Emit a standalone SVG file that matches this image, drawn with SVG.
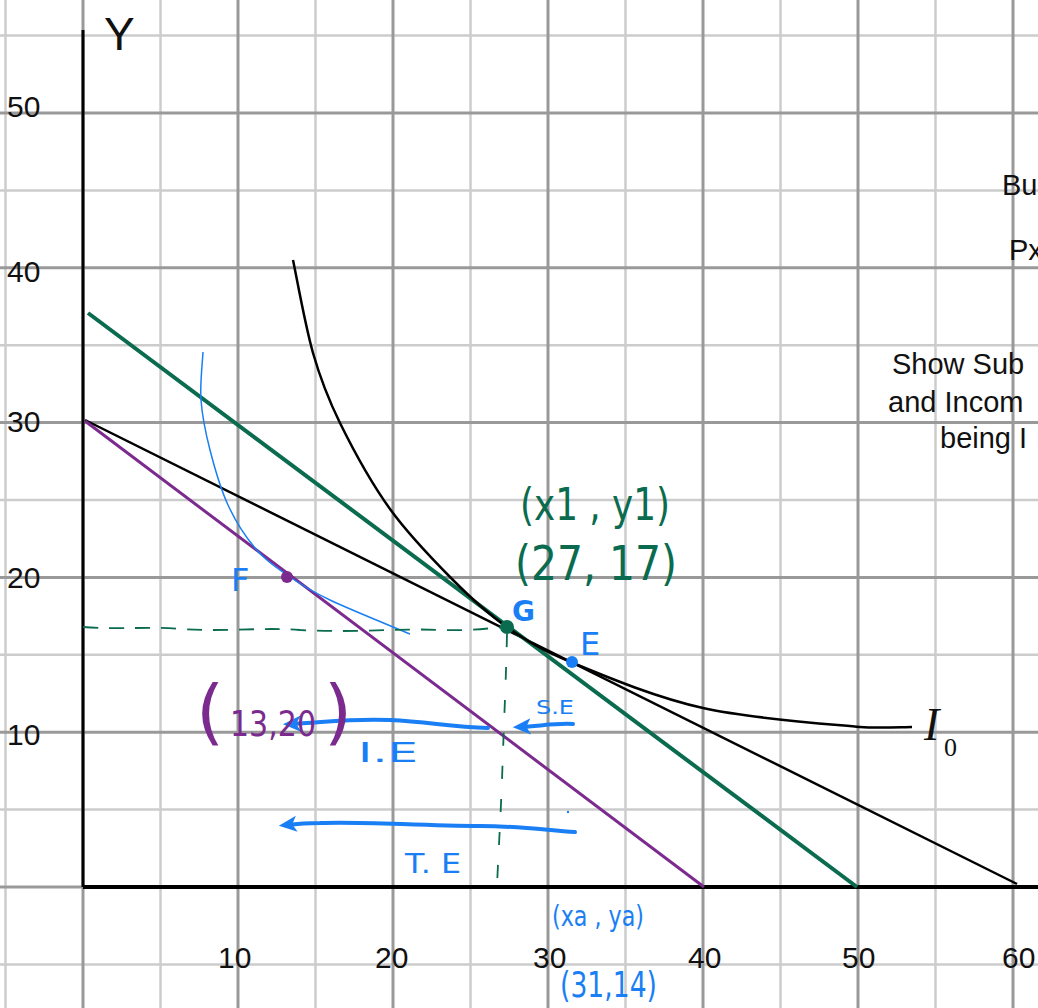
<svg xmlns="http://www.w3.org/2000/svg" width="1038" height="1008" viewBox="0 0 1038 1008">
<defs>
<style>
.minor{stroke:#cccccc;stroke-width:2.5}
.major{stroke:#999999;stroke-width:3}
.tick{font-family:"Liberation Sans",Arial,sans-serif;font-size:30px;fill:#111}
.note{font-family:"Liberation Sans",Arial,sans-serif;font-size:29px;fill:#111}
.hand{font-family:"DejaVu Sans","Noto Sans",sans-serif}
.blue{fill:#1a7ff5}
.green{fill:#0a6b4f}
.purple{fill:#7b2a8e}
.arrow{fill:none;stroke:#1a7ff5;stroke-width:4;stroke-linecap:round}
</style>
<marker id="bhead" viewBox="0 0 10 10" refX="6" refY="5" markerWidth="4.5" markerHeight="4.5" orient="auto" markerUnits="strokeWidth">
<path d="M10,5 L0,0.5 L2.5,5 L0,9.5 Z" fill="#1a7ff5"/>
</marker>
</defs>
<rect width="1038" height="1008" fill="#ffffff"/>
<g id="grid">
<g class="minor">
<line x1="5.5" y1="0" x2="5.5" y2="1008"/><line x1="160.5" y1="0" x2="160.5" y2="1008"/><line x1="315.5" y1="0" x2="315.5" y2="1008"/><line x1="470.5" y1="0" x2="470.5" y2="1008"/><line x1="625.5" y1="0" x2="625.5" y2="1008"/><line x1="780.5" y1="0" x2="780.5" y2="1008"/><line x1="935.5" y1="0" x2="935.5" y2="1008"/>
<line x1="0" y1="35.6" x2="1038" y2="35.6"/><line x1="0" y1="190.4" x2="1038" y2="190.4"/><line x1="0" y1="345.2" x2="1038" y2="345.2"/><line x1="0" y1="500" x2="1038" y2="500"/><line x1="0" y1="654.8" x2="1038" y2="654.8"/><line x1="0" y1="809.6" x2="1038" y2="809.6"/><line x1="0" y1="964.4" x2="1038" y2="964.4"/>
</g>
<g class="major">
<line x1="83" y1="0" x2="83" y2="1008"/><line x1="238" y1="0" x2="238" y2="1008"/><line x1="393" y1="0" x2="393" y2="1008"/><line x1="548" y1="0" x2="548" y2="1008"/><line x1="703" y1="0" x2="703" y2="1008"/><line x1="858" y1="0" x2="858" y2="1008"/><line x1="1013" y1="0" x2="1013" y2="1008"/>
<line x1="0" y1="113" x2="1038" y2="113"/><line x1="0" y1="267.8" x2="1038" y2="267.8"/><line x1="0" y1="422.6" x2="1038" y2="422.6"/><line x1="0" y1="577.4" x2="1038" y2="577.4"/><line x1="0" y1="732.2" x2="1038" y2="732.2"/><line x1="0" y1="887" x2="1038" y2="887"/>
</g>
</g>
<g id="axes">
<line x1="83" y1="30" x2="83" y2="887" stroke="#000" stroke-width="3"/>
<line x1="83" y1="887" x2="1038" y2="887" stroke="#000" stroke-width="4"/>
<text x="104" y="50" font-family="Liberation Sans,Arial,sans-serif" font-size="46" fill="#111">Y</text>
</g>
<g id="tick-labels">
<text class="tick" x="7" y="117">50</text>
<text class="tick" x="7" y="282">40</text>
<text class="tick" x="7" y="432">30</text>
<text class="tick" x="7" y="588">20</text>
<text class="tick" x="7" y="745">10</text>
<text class="tick" x="218" y="968">10</text>
<text class="tick" x="375" y="968">20</text>
<text class="tick" x="533" y="968">30</text>
<text class="tick" x="688" y="968">40</text>
<text class="tick" x="842" y="968">50</text>
<text class="tick" x="1002" y="968">60</text>
</g>
<g id="notes">
<text class="note" x="1002" y="195">Bu</text>
<text class="note" x="1009" y="260">Px</text>
<text class="note" x="892" y="374">Show Sub</text>
<text class="note" x="888" y="412">and Incom</text>
<text class="note" x="940" y="448">being I</text>
</g>
<g id="budget-lines">
<line id="bl-original" x1="85" y1="420" x2="1017" y2="884" stroke="#000" stroke-width="2.5"/>
<line id="bl-purple" x1="85" y1="421" x2="704" y2="887" stroke="#7b2a8e" stroke-width="3"/>
<line id="bl-green" x1="88" y1="313" x2="857" y2="887" stroke="#0a6b4f" stroke-width="4"/>
</g>
<g id="curves">
<path id="I0" fill="none" stroke="#000" stroke-width="2.5" d="M293,260 C296.3,275.5 305.2,325.8 313,353 C320.8,380.2 327.2,397 340,423 C352.8,449 371.3,483 390,509 C408.7,535 432.5,559.3 452,579 C471.5,598.7 486.8,613 507,627 C527.2,641 540.3,649.5 573,663 C605.7,676.5 655.2,697.3 703,708 C750.8,718.7 825.2,723.8 860,727 C878,728.5 903,727 912,727"/>
<path id="I-blue" fill="none" stroke="#1a7ff5" stroke-width="1.5" d="M203,352 C202.7,360 199.8,383.7 201,400 C202.2,416.3 205.5,432.5 210,450 C214.5,467.5 220.5,488.7 228,505 C235.5,521.3 245.2,536.3 255,548 C264.8,559.7 274.5,566.3 287,575 C299.5,583.7 309.5,590.2 330,600 C350.5,609.8 396.7,628.3 410,634"/>
<text x="924" y="740" font-family="Liberation Serif,serif" font-style="italic" font-size="46" fill="#111">I</text>
<text x="944" y="756" font-family="Liberation Serif,serif" font-size="26" fill="#111">0</text>
</g>
<g id="connectors">
<path id="dash-h" fill="none" stroke="#0a6b4f" stroke-width="1.8" stroke-dasharray="15 11" d="M83,627 C120,630 150,626 180,629 C230,632 260,627 300,630 C360,633 400,628 440,630 C470,631 490,628 507,627"/>
<path id="dash-v" fill="none" stroke="#0a6b4f" stroke-width="1.8" stroke-dasharray="13 20" d="M507,634 C506,680 504,720 502,780 C500,830 498,860 497,887"/>
<path id="arrow-se" class="arrow" marker-end="url(#bhead)" d="M573,724 C556,723 540,726 520,727"/>
<path id="arrow-ie" class="arrow" marker-end="url(#bhead)" d="M488,728 C450,727 430,722 390,720 C350,718 320,723 290,724"/>
<path id="arrow-te" class="arrow" marker-end="url(#bhead)" d="M575,832 C545,830 520,826 480,826 C420,826 360,821 320,823 C305,823 295,824 286,825"/>
<circle cx="568" cy="812" r="1.2" fill="#1a7ff5"/>
</g>
<g id="point-F"><circle cx="287" cy="577" r="6" fill="#7b2a8e"/>
<text class="hand blue" x="231" y="591" font-size="32">F</text></g>
<g id="point-G"><circle cx="507" cy="627" r="7" fill="#0a6b4f"/>
<text class="hand blue" x="512" y="621" font-size="28" font-weight="bold">G</text></g>
<g id="point-E"><circle cx="572" cy="662" r="6" fill="#1a7ff5"/>
<text class="hand blue" x="580" y="655" font-size="32">E</text></g>
<g id="labels">
<text class="hand green" x="520" y="520" font-size="44" textLength="150" lengthAdjust="spacingAndGlyphs">(x1 , y1)</text>
<text class="hand green" x="515" y="580" font-size="48" textLength="162" lengthAdjust="spacingAndGlyphs">(27, 17)</text>
<text class="hand blue" x="536" y="714" font-size="20" textLength="38" lengthAdjust="spacingAndGlyphs">S.E</text>
<text class="hand blue" x="358" y="762" font-size="26" textLength="60" lengthAdjust="spacingAndGlyphs">I.E</text>
<text class="hand blue" x="405" y="873" font-size="26" textLength="56" lengthAdjust="spacingAndGlyphs">T. E</text>
<text class="hand blue" x="552" y="926" font-size="28" textLength="92" lengthAdjust="spacingAndGlyphs">(xa , ya)</text>
<text class="hand blue" x="560" y="997" font-size="36" textLength="97" lengthAdjust="spacingAndGlyphs">(31,14)</text>
<text class="hand purple" y="736"><tspan x="196" font-size="72">(</tspan><tspan x="230" font-size="36" textLength="86" lengthAdjust="spacingAndGlyphs">13,20</tspan><tspan x="324" font-size="72">)</tspan></text>
</g>
</svg>
